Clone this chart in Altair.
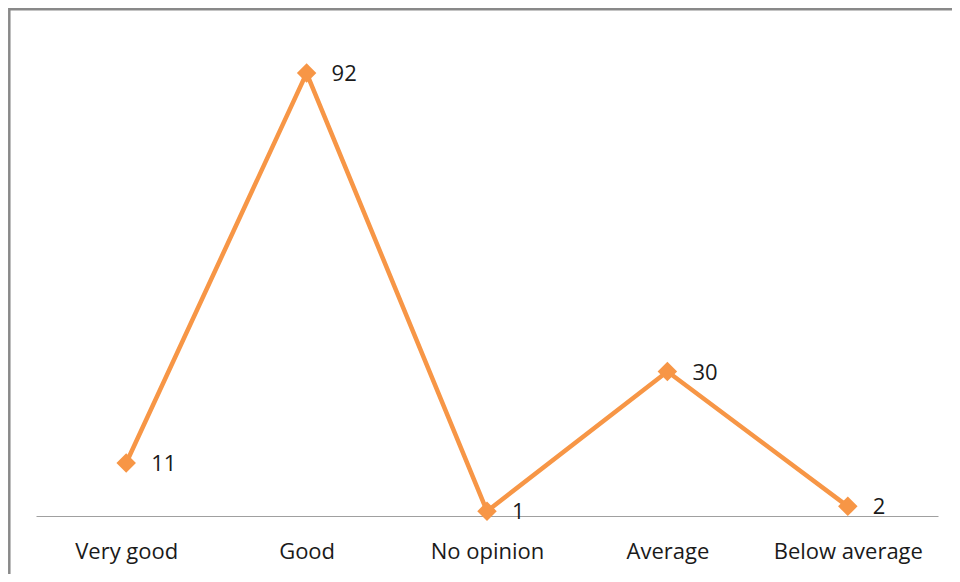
import altair as alt
import pandas as pd

categories = ["Very good", "Good", "No opinion", "Average", "Below average"]
values = [11, 92, 1, 30, 2]

df = pd.DataFrame({"cat": categories, "val": values})

ORANGE = "#F79646"
FONT = "Open Sans"

x = alt.X("cat:N", sort=categories, title=None,
          scale=alt.Scale(paddingInner=0, paddingOuter=0.5),
          axis=alt.Axis(labelAngle=0, ticks=False, grid=False, domainColor="#a0a0a0",
                        domainWidth=1, labelFont=FONT, labelFontSize=22,
                        labelColor="#1a1a1a", labelPadding=25))
y = alt.Y("val:Q", title=None, scale=alt.Scale(domain=[0, 100], nice=False),
          axis=None)

base = alt.Chart(df).encode(x=x, y=y)

frame = alt.Chart(alt.Data(values=[{"a": 1}])).mark_rect(
    fillOpacity=0, stroke="#898989", strokeWidth=2.5
).encode(x=alt.value(-26.7), x2=alt.value(1000), y=alt.value(-25.2), y2=alt.value(700))

line = base.mark_line(color=ORANGE, strokeWidth=4.5)
pts = base.mark_point(shape="diamond", filled=True, size=380, color=ORANGE, opacity=1)
txt = base.mark_text(align="left", baseline="middle", dx=25, dy=1, font=FONT,
                     fontSize=22, color="#1a1a1a").encode(text="val:Q")

chart = alt.layer(frame, line, pts, txt).properties(
    width=902, height=481.5,
    background="white",
    autosize=alt.AutoSizeParams(type="none"),
    padding={"left": 28, "top": 26.5, "right": 14, "bottom": 58},
).configure_view(stroke=None)

chart.save("out.html", embed_options={"renderer": "svg", "actions": False})
